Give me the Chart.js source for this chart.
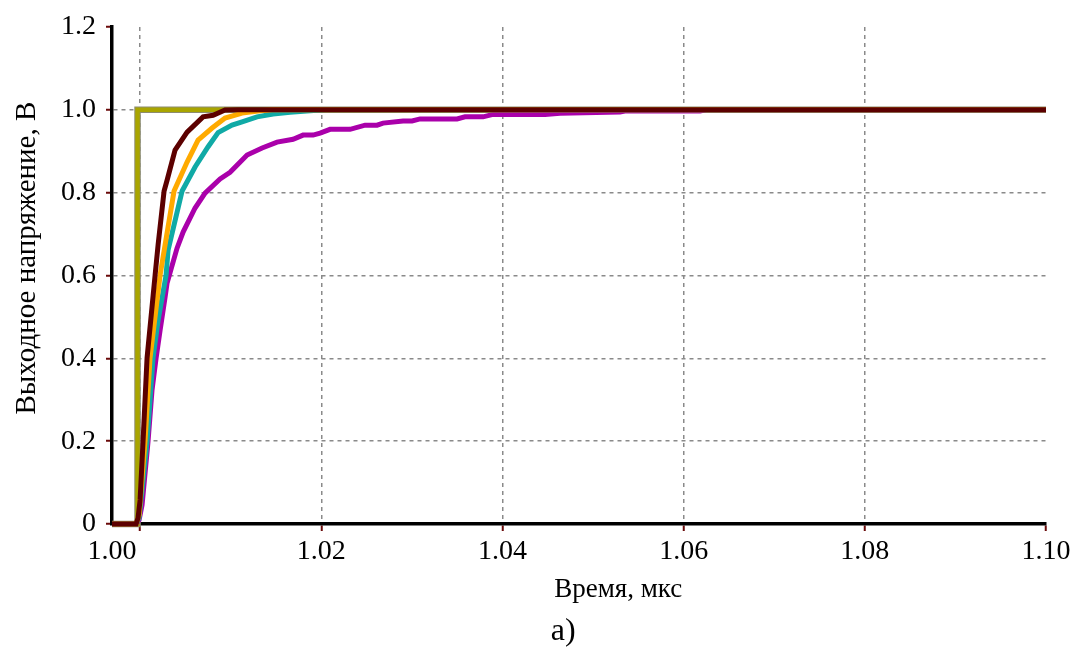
<!DOCTYPE html>
<html>
<head>
<meta charset="utf-8">
<script src="https://cdn.jsdelivr.net/npm/chart.js@4/dist/chart.umd.min.js"></script>
<style>
html,body{margin:0;padding:0;background:#fff;}
#wrap{width:1082px;height:651px;position:relative;}
</style>
</head>
<body>
<div id="wrap"><canvas id="c" width="1082" height="651"></canvas></div>
<script>
// ---- data ----
const xMin = 0.9969;
const xMax = 1.10;
const xTickValues = [1.00, 1.02, 1.04, 1.06, 1.08, 1.10];
const xTickLabels = ["1.00", "1.02", "1.04", "1.06", "1.08", "1.10"];
const yTickValues = [0, 0.2, 0.4, 0.6, 0.8, 1.0, 1.2];
const yTickLabels = ["0", "0.2", "0.4", "0.6", "0.8", "1.0", "1.2"];

const idealX = [0.9969, 0.99972, 0.99972, 1.10];
const idealY = [0, 0, 1.0, 1.0];

const maroonX = [0.9969, 0.99956, 0.99978, 1.0000, 1.00033, 1.00077, 1.00166, 1.00199, 1.00265, 1.00298, 1.00386, 1.00519, 1.00695, 1.00806, 1.00938, 1.01082, 1.10];
const maroonY = [0, 0, 0.015, 0.058, 0.200, 0.401, 0.601, 0.674, 0.804, 0.830, 0.903, 0.946, 0.983, 0.987, 0.9995, 1.0, 1.0];

const orangeX = [0.9969, 0.99956, 0.99989, 1.00011, 1.00055, 1.0011, 1.00221, 1.00276, 1.00375, 1.00519, 1.0064, 1.00795, 1.00938, 1.01126, 1.01325, 1.01457, 1.10];
const orangeY = [0, 0, 0.022, 0.082, 0.200, 0.401, 0.601, 0.674, 0.804, 0.874, 0.927, 0.956, 0.980, 0.992, 0.998, 1.0, 1.0];

const tealX = [0.9969, 0.99956, 0.99989, 1.00022, 1.00077, 1.00143, 1.00199, 1.00287, 1.00309, 1.00464, 1.00607, 1.00751, 1.00861, 1.01015, 1.01126, 1.01291, 1.01468, 1.01656, 1.01876, 1.02042, 1.10];
const tealY = [0, 0, 0.015, 0.082, 0.200, 0.401, 0.492, 0.601, 0.661, 0.804, 0.862, 0.911, 0.945, 0.963, 0.971, 0.983, 0.990, 0.994, 0.998, 1.0, 1.0];

const magentaX = [0.9969, 0.99956, 0.99989, 1.00022, 1.00088, 1.00132, 1.00177, 1.00221, 1.00276, 1.00298, 1.00408, 1.00475, 1.00607, 1.00717, 1.00883, 1.00993, 1.01181, 1.01347, 1.01512, 1.01689, 1.01799, 1.0191, 1.01987, 1.02097, 1.02318, 1.02484, 1.02616, 1.02682, 1.02903, 1.03002, 1.03091, 1.03499, 1.03587, 1.03786, 1.03896, 1.0447, 1.04636, 1.05298, 1.05353, 1.06181, 1.06247, 1.10];
const magentaY = [0, 0, 0.010, 0.046, 0.200, 0.324, 0.401, 0.468, 0.548, 0.582, 0.666, 0.705, 0.763, 0.799, 0.833, 0.849, 0.891, 0.908, 0.922, 0.929, 0.939, 0.939, 0.944, 0.953, 0.953, 0.963, 0.963, 0.968, 0.973, 0.973, 0.978, 0.978, 0.983, 0.983, 0.989, 0.989, 0.992, 0.995, 0.997, 0.997, 1.0, 1.0];

const xTitle = "Время, мкс";
const yTitle = "Выходное напряжение, В";
const caption = "а)";

// ---- build ----
const pts = (xs, ys) => xs.map((x, i) => ({x: x, y: ys[i]}));
const FONT = "'Liberation Serif', 'Times New Roman', serif";
const GRID = "#8a8a8a";
const TICKC = "#6a0a0a";

// order: higher value is drawn first (underneath)
function ds(xs, ys, color, w, order) {
  return {data: pts(xs, ys), borderColor: color, borderWidth: w, pointRadius: 0,
          fill: false, tension: 0, clip: false, order: order};
}

const textPlugin = {
  id: 'texts',
  afterDraw(chart) {
    const ctx = chart.ctx;
    const a = chart.chartArea;
    ctx.save();
    ctx.fillStyle = '#000';
    ctx.textAlign = 'center';
    ctx.textBaseline = 'middle';
    ctx.font = "27px " + FONT;
    ctx.fillText(xTitle, a.left + (a.right - a.left) * 0.542, a.bottom + 66);
    ctx.font = "32px " + FONT;
    ctx.fillText(caption, a.left + (a.right - a.left) * 0.483, a.bottom + 108);
    ctx.translate(27, a.top + (a.bottom - a.top) * 0.465);
    ctx.rotate(-Math.PI / 2);
    ctx.font = "29px " + FONT;
    ctx.fillText(yTitle, 0, 0);
    ctx.restore();
  }
};

new Chart(document.getElementById('c'), {
  type: 'line',
  data: {
    datasets: [
      ds(idealX, idealY, '#8c8c70', 6.5, 6),
      ds(idealX, idealY, '#a9a500', 4.5, 5),
      ds(magentaX, magentaY, '#aa00aa', 5, 4),
      ds(tealX, tealY, '#10aaa6', 5, 3),
      ds(orangeX, orangeY, '#ffaa00', 5, 2),
      ds(maroonX, maroonY, '#5c0000', 5, 1)
    ]
  },
  options: {
    responsive: false,
    animation: false,
    plugins: {legend: {display: false}, tooltip: {enabled: false}},
    layout: {padding: {top: 27, right: 36, left: 0, bottom: 0}},
    scales: {
      x: {
        type: 'linear',
        min: xMin, max: xMax,
        afterBuildTicks(scale) {
          scale.ticks = [{value: xMin}].concat(xTickValues.map(v => ({value: v})));
        },
        afterFit(scale) { scale.height = 127; },
        ticks: {
          autoSkip: false, maxRotation: 0, minRotation: 0, padding: 4,
          color: '#000', font: {family: FONT, size: 28},
          callback(v, i) {
            if (i === 0) return xTickLabels[0];
            const k = xTickValues.findIndex(t => Math.abs(t - v) < 1e-9);
            return k > 0 ? xTickLabels[k] : '';
          }
        },
        grid: {
          lineWidth: 1.5, tickLength: 7, tickWidth: 2,
          color(c) { const v = c.tick ? c.tick.value : null; return (v !== null && v >= 0.9999 && v <= 1.0801) ? GRID : 'rgba(0,0,0,0)'; },
          tickColor(c) { const v = c.tick ? c.tick.value : null; return (v !== null && v >= 0.9999) ? TICKC : 'rgba(0,0,0,0)'; }
        },
        border: {color: '#000', width: 3.5, dash: [4, 4]}
      },
      y: {
        type: 'linear',
        min: 0, max: 1.2,
        afterBuildTicks(scale) { scale.ticks = yTickValues.map(v => ({value: v})); },
        afterFit(scale) { scale.width = 112; },
        ticks: {
          autoSkip: false, padding: 10, color: '#000', font: {family: FONT, size: 28},
          callback(v) {
            const k = yTickValues.findIndex(t => Math.abs(t - v) < 1e-9);
            return k >= 0 ? yTickLabels[k] : '';
          }
        },
        grid: {
          lineWidth: 1.5, tickLength: 6, tickWidth: 2, tickColor: TICKC,
          color(c) { const v = c.tick ? c.tick.value : null; return (v !== null && v > 0.1 && v < 1.1) ? GRID : 'rgba(0,0,0,0)'; }
        },
        border: {color: '#000', width: 3.5, dash: [4, 4]}
      }
    }
  },
  plugins: [textPlugin]
});
</script>
</body>
</html>
